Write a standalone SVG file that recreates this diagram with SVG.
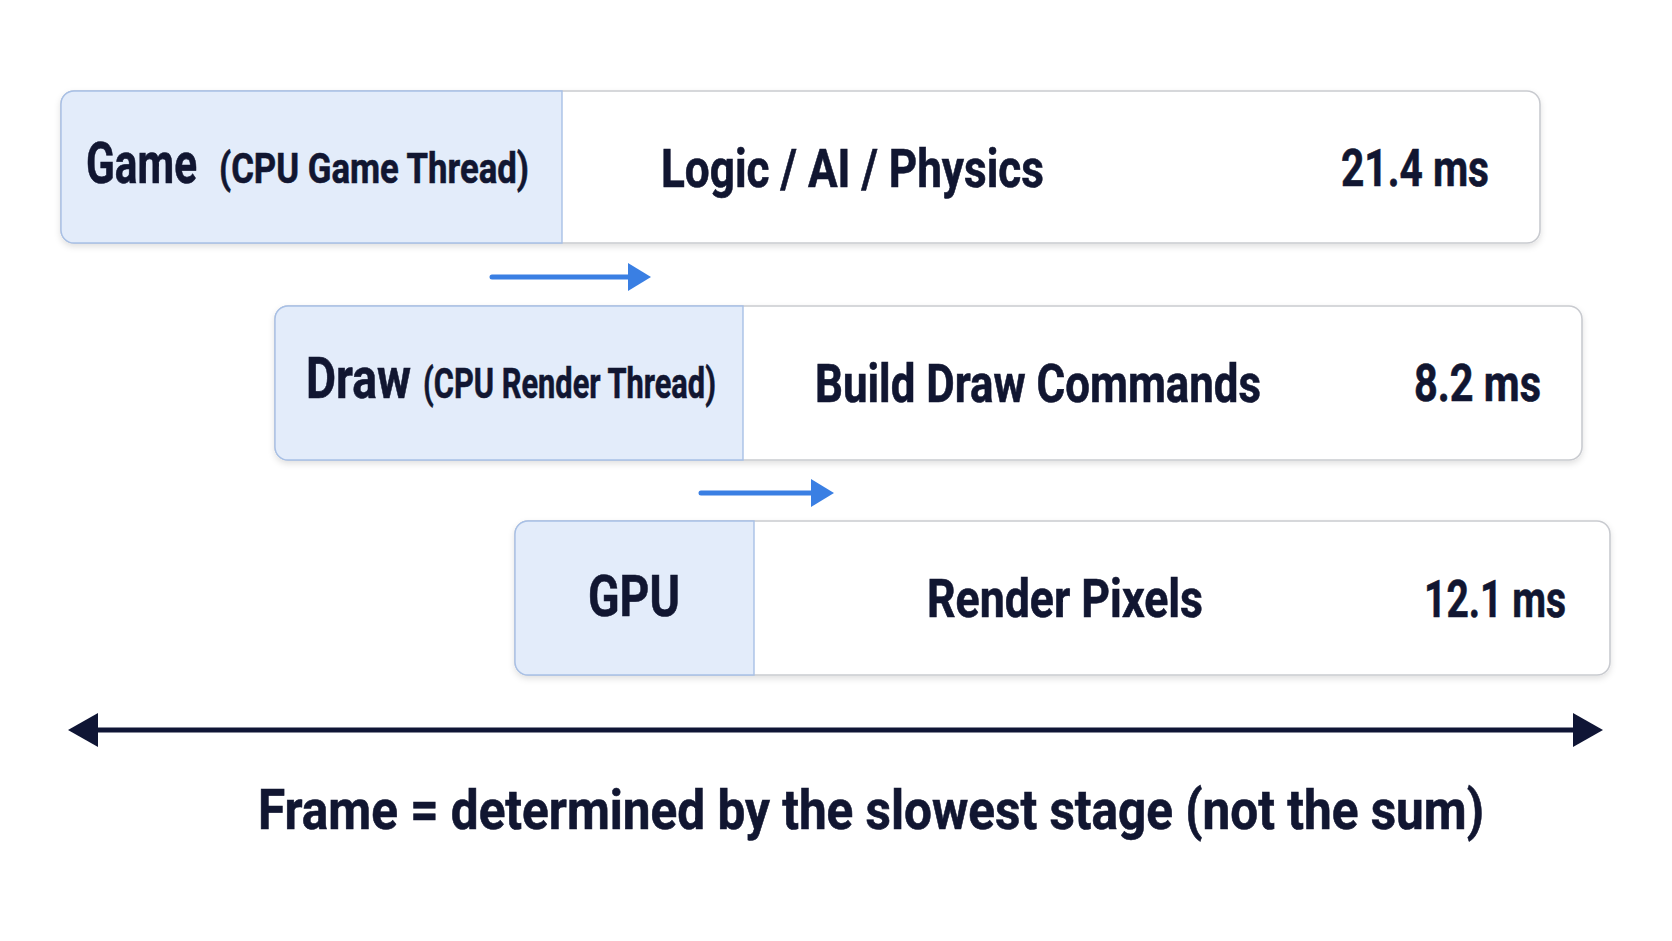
<svg xmlns="http://www.w3.org/2000/svg" width="1672" height="941" viewBox="0 0 1672 941">
  <defs>
    <filter id="sh" x="-5%" y="-20%" width="110%" height="150%">
      <feDropShadow dx="0" dy="3" stdDeviation="3" flood-color="#000" flood-opacity="0.12"/>
    </filter>
    <marker id="blueHead" markerUnits="userSpaceOnUse" markerWidth="24" markerHeight="28" refX="0" refY="14" orient="auto">
      <path d="M0,0 L23,14 L0,28 Z" fill="#3a7fe3"/>
    </marker>
    <marker id="navyHead" markerUnits="userSpaceOnUse" markerWidth="32" markerHeight="34" refX="2" refY="17" orient="auto-start-reverse">
      <path d="M0,0 L30,17 L0,34 Z" fill="#0f1535"/>
    </marker>
  </defs>
  <style>
    .box { fill: #ffffff; stroke: #c9cbd0; stroke-width: 1.6; }
    .lab { fill: #e3ecfa; stroke: #a8c0e6; stroke-width: 1.4; }
    .t { font-family: "Liberation Sans Narrow", Roboto, "Liberation Sans", sans-serif; font-weight: bold; fill: #111631; stroke: #111631; stroke-width: 0.6; }
    .big { font-size: 57px; }
    .sub { font-size: 43px; }
    .mid { font-size: 53px; }
    .ms { font-size: 52px; }
    .flow { stroke: #3a7fe3; stroke-width: 5; stroke-linecap: round; fill: none; }
    .span { stroke: #0f1535; stroke-width: 5; fill: none; }
  </style>
  <rect width="1672" height="941" fill="#ffffff"/>

  <g id="game">
    <rect class="box" x="61" y="91" width="1479" height="152" rx="13" filter="url(#sh)"/>
    <path class="lab" d="M74,91 H562 V243 H74 A13,13 0 0 1 61,230 V104 A13,13 0 0 1 74,91 Z"/>
    <text class="t" y="183"><tspan class="big" x="86" textLength="111" lengthAdjust="spacingAndGlyphs">Game</tspan><tspan class="sub" x="219" textLength="310" lengthAdjust="spacingAndGlyphs">(CPU Game Thread)</tspan></text>
    <text class="t mid" x="661" y="187" textLength="383" lengthAdjust="spacingAndGlyphs">Logic / AI / Physics</text>
    <text class="t ms" x="1341" y="186" textLength="148" lengthAdjust="spacingAndGlyphs">21.4 ms</text>
  </g>

  <g id="draw">
    <rect class="box" x="275" y="306" width="1307" height="154" rx="13" filter="url(#sh)"/>
    <path class="lab" d="M288,306 H743 V460 H288 A13,13 0 0 1 275,447 V319 A13,13 0 0 1 288,306 Z"/>
    <text class="t" y="398"><tspan class="big" x="306" textLength="105" lengthAdjust="spacingAndGlyphs">Draw</tspan><tspan class="sub" x="423" textLength="293" lengthAdjust="spacingAndGlyphs">(CPU Render Thread)</tspan></text>
    <text class="t mid" x="815" y="402" textLength="446" lengthAdjust="spacingAndGlyphs">Build Draw Commands</text>
    <text class="t ms" x="1414" y="401" textLength="127" lengthAdjust="spacingAndGlyphs">8.2 ms</text>
  </g>

  <g id="gpu">
    <rect class="box" x="515" y="521" width="1095" height="154" rx="13" filter="url(#sh)"/>
    <path class="lab" d="M528,521 H754 V675 H528 A13,13 0 0 1 515,662 V534 A13,13 0 0 1 528,521 Z"/>
    <text class="t big" x="588" y="616" textLength="92" lengthAdjust="spacingAndGlyphs">GPU</text>
    <text class="t mid" x="927" y="617" textLength="276" lengthAdjust="spacingAndGlyphs">Render Pixels</text>
    <text class="t ms" x="1424" y="617" textLength="142" lengthAdjust="spacingAndGlyphs">12.1 ms</text>
  </g>

  <g id="connectors">
    <line class="flow" x1="492" y1="277" x2="628" y2="277" marker-end="url(#blueHead)"/>
    <line class="flow" x1="701" y1="493" x2="811" y2="493" marker-end="url(#blueHead)"/>
    <line class="span" x1="96" y1="730" x2="1575" y2="730" marker-start="url(#navyHead)" marker-end="url(#navyHead)"/>
  </g>

  <text id="caption" class="t" x="258" y="829" font-size="55" textLength="1226" lengthAdjust="spacingAndGlyphs">Frame = determined by the slowest stage (not the sum)</text>
</svg>
